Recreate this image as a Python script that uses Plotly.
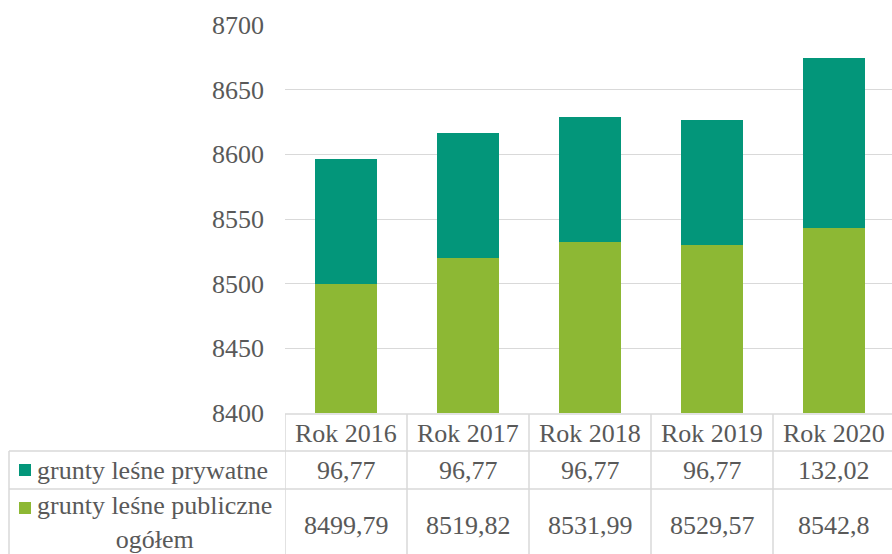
import plotly.graph_objects as go

categories = ["Rok 2016", "Rok 2017", "Rok 2018", "Rok 2019", "Rok 2020"]
prywatne = [96.77, 96.77, 96.77, 96.77, 132.02]
publiczne = [8499.79, 8519.82, 8531.99, 8529.57, 8542.8]
series_names = ["grunty leśne prywatne", "grunty leśne publiczne<br>ogółem"]
y_ticks = [8400, 8450, 8500, 8550, 8600, 8650, 8700]

C_PRYW = "#03967a"
C_PUBL = "#8db834"
TXT = "#595959"
GRID = "#d9d9d9"
FONT = "Liberation Serif, Times New Roman, Times, serif"
W, H = 892, 554

def px(x):
    return x / W

def py(y):
    return 1 - y / H

fig = go.Figure()
fig.add_trace(go.Bar(x=categories, y=publiczne, name=series_names[1], marker_color=C_PUBL,
                     marker_line=dict(width=0)))
fig.add_trace(go.Bar(x=categories, y=prywatne, name=series_names[0], marker_color=C_PRYW,
                     marker_line=dict(width=0)))

n = len(categories)
x0_px, col_w = 285, 122
xr = [-0.5, -0.5 + (W - x0_px) / col_w]

fig.update_layout(
    width=W, height=H, margin=dict(l=0, r=0, t=0, b=0, autoexpand=False),
    paper_bgcolor="white", plot_bgcolor="white",
    barmode="stack", bargap=0.49, showlegend=False,
    font=dict(family=FONT, size=26, color=TXT),
    xaxis=dict(domain=[px(x0_px), 1], range=xr, showticklabels=False, showgrid=False,
               zeroline=False, showline=False, fixedrange=True, automargin=False),
    yaxis=dict(domain=[py(413), py(25)], range=[8400, 8700], tickvals=y_ticks,
               showgrid=True, gridcolor=GRID, gridwidth=1.3, zeroline=False,
               showline=False, ticks="", ticklabelstandoff=20, automargin=False,
               tickfont=dict(family=FONT, size=26, color=TXT)),
)

shapes = []
line = dict(color=GRID, width=1.5)
shapes.append(dict(type="line", xref="paper", yref="paper", x0=px(x0_px), x1=1, y0=py(414), y1=py(414), line=line))
for yy in (451, 489):
    shapes.append(dict(type="line", xref="paper", yref="paper", x0=px(9), x1=1, y0=py(yy), y1=py(yy), line=line))
shapes.append(dict(type="line", xref="paper", yref="paper", x0=px(9), x1=px(9), y0=py(451), y1=0, line=line))
for i in range(n):
    shapes.append(dict(type="line", xref="x", yref="paper", x0=i - 0.5, x1=i - 0.5, y0=py(414), y1=0, line=line))
for yc, col in ((470, C_PRYW), (508, C_PUBL)):
    shapes.append(dict(type="rect", xref="paper", yref="paper", x0=px(19), x1=px(31),
                       y0=py(yc + 6), y1=py(yc - 6), fillcolor=col, line=dict(width=0)))
fig.update_layout(shapes=shapes)

def fmt(v):
    return str(v).replace(".", ",")

ann = []
for i, c in enumerate(categories):
    ann.append(dict(x=i, y=py(433), xref="x", yref="paper", text=c, showarrow=False,
                    xanchor="center", yanchor="middle"))
    ann.append(dict(x=i, y=py(470), xref="x", yref="paper", text=fmt(prywatne[i]), showarrow=False,
                    xanchor="center", yanchor="middle"))
    ann.append(dict(x=i, y=py(525), xref="x", yref="paper", text=fmt(publiczne[i]), showarrow=False,
                    xanchor="center", yanchor="middle"))
ann.append(dict(x=px(35), y=py(470), xref="paper", yref="paper", text=series_names[0], showarrow=False,
                xanchor="left", yanchor="middle"))
ann.append(dict(x=px(35), y=py(522), xref="paper", yref="paper", text=series_names[1], showarrow=False,
                xanchor="left", yanchor="middle", align="center"))
fig.update_layout(annotations=ann)

fig.write_html("out.html", config={"displayModeBar": False},
               post_script="document.body.style.margin='0';document.body.style.overflow='hidden';")
